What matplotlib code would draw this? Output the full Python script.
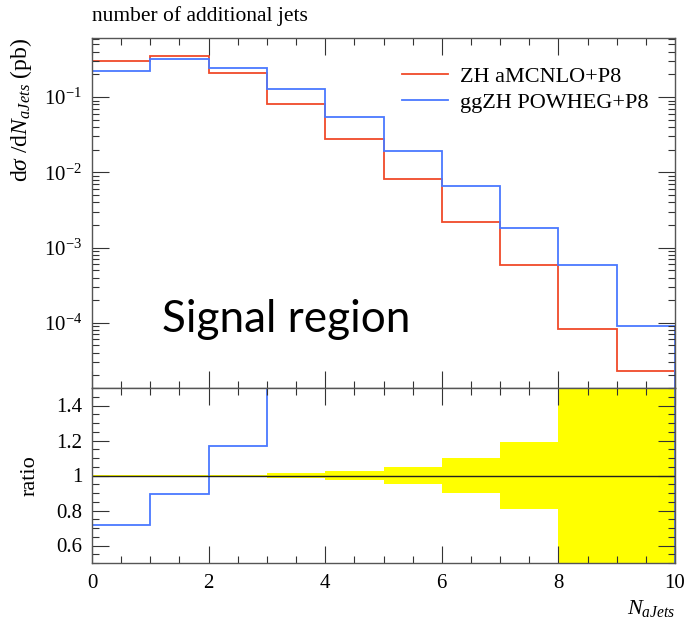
import matplotlib
matplotlib.use("Agg")
import matplotlib.pyplot as plt
import numpy as np
from matplotlib.ticker import MultipleLocator, LogLocator, NullFormatter, FixedLocator

plt.rcParams['font.family'] = ['Liberation Serif', 'DejaVu Serif']
plt.rcParams['mathtext.fontset'] = 'custom'
plt.rcParams['mathtext.rm'] = 'Liberation Serif'
plt.rcParams['mathtext.it'] = 'Liberation Serif:italic'

# jet multiplicity bins
edges = np.arange(0, 11)
zh_amcnlo = [0.306, 0.357, 0.208, 0.0807, 0.0274, 0.0082, 0.0022, 5.9e-4, 8.4e-5, 2.3e-5]
ggzh_powheg = [0.220, 0.320, 0.243, 0.128, 0.0536, 0.0194, 0.0065, 1.83e-3, 5.8e-4, 9.0e-5]
# relative uncertainty on the reference sample
rel_err = [0.005, 0.005, 0.005, 0.015, 0.027, 0.047, 0.098, 0.189, 0.65, 1.0]

red = '#f04a2a'
blue = '#4a78ff'
spine_col = '#555555'

fig = plt.figure(figsize=(6.89, 6.2), dpi=100)
W, H = 689, 620
x0, x1 = 92, 675
ax = fig.add_axes([x0 / W, (H - 388) / H, (x1 - x0) / W, (388 - 38) / H])
axr = fig.add_axes([x0 / W, (H - 563) / H, (x1 - x0) / W, (563 - 388) / H], sharex=ax)

ax.stairs(zh_amcnlo, edges, color=red, lw=1.3, label='ZH aMCNLO+P8')
ax.stairs(ggzh_powheg, edges, color=blue, lw=1.3, label='ggZH POWHEG+P8')
ax.set_yscale('log')
ax.set_ylim(1.36e-5, 0.61)
ax.set_xlim(0, 10)
ax.yaxis.set_major_locator(FixedLocator([1e-4, 1e-3, 1e-2, 1e-1]))
ax.yaxis.set_minor_locator(LogLocator(base=10, subs=np.arange(2, 10), numticks=20))
ax.yaxis.set_minor_formatter(NullFormatter())
ax.set_yticklabels([r'$10^{-4}$', r'$10^{-3}$', r'$10^{-2}$', r'$10^{-1}$'])
ax.tick_params(labelbottom=False)
ax.set_ylabel(r'd$\sigma$ /d$N_{aJets}$ (pb)', fontsize=17, loc='top')
ax.yaxis.set_label_coords(-0.1, 1.0)
ax.text(0.0, 1.035, 'number of additional jets', transform=ax.transAxes,
        fontsize=15.5, ha='left', va='bottom')
ax.text(1.2, 7.6e-5, 'Signal region', fontsize=31.8, family='Lato', ha='left', va='baseline')

ax.legend(loc='upper right', bbox_to_anchor=(0.969, 0.944), frameon=False, fontsize=16,
          handlelength=2.07, handletextpad=0.54, labelspacing=0.25, borderaxespad=0)

ratio = np.array(ggzh_powheg) / np.array(zh_amcnlo)
err = np.array(rel_err)
axr.stairs(1 + err, edges, baseline=1 - err, fill=True, color='#ffff00', lw=0)
axr.axhline(1, color='#222222', lw=1.0)
axr.stairs(ratio, edges, color=blue, lw=1.3)
axr.set_ylim(0.5, 1.5)
axr.yaxis.set_major_locator(MultipleLocator(0.2))
axr.yaxis.set_minor_locator(MultipleLocator(0.05))
axr.set_yticks([0.6, 0.8, 1.0, 1.2, 1.4])
axr.set_yticklabels(['0.6', '0.8', '1', '1.2', '1.4'])
axr.set_ylabel('ratio', fontsize=16)
axr.yaxis.set_label_coords(-0.09, 0.5)
axr.set_xticks([0, 2, 4, 6, 8, 10])
axr.set_xticklabels(['0', '2', '4', '6', '8', '10'])
axr.text(1.0, -0.2, r'$N_{aJets}$', transform=axr.transAxes, fontsize=16,
         ha='right', va='top')

for a in (ax, axr):
    a.xaxis.set_minor_locator(MultipleLocator(0.5))
    a.tick_params(which='both', direction='in', top=True, right=True,
                  colors='#333333', labelcolor='black', labelsize=15)
    a.tick_params(which='major', length=12.5, width=0.8)
    a.tick_params(which='minor', length=5, width=0.8)
    a.tick_params(axis='x', pad=8)
    a.tick_params(axis='y', pad=7)
    for s in a.spines.values():
        s.set_color(spine_col)
        s.set_linewidth(1.0)

fig.savefig('out.png', dpi=100)
